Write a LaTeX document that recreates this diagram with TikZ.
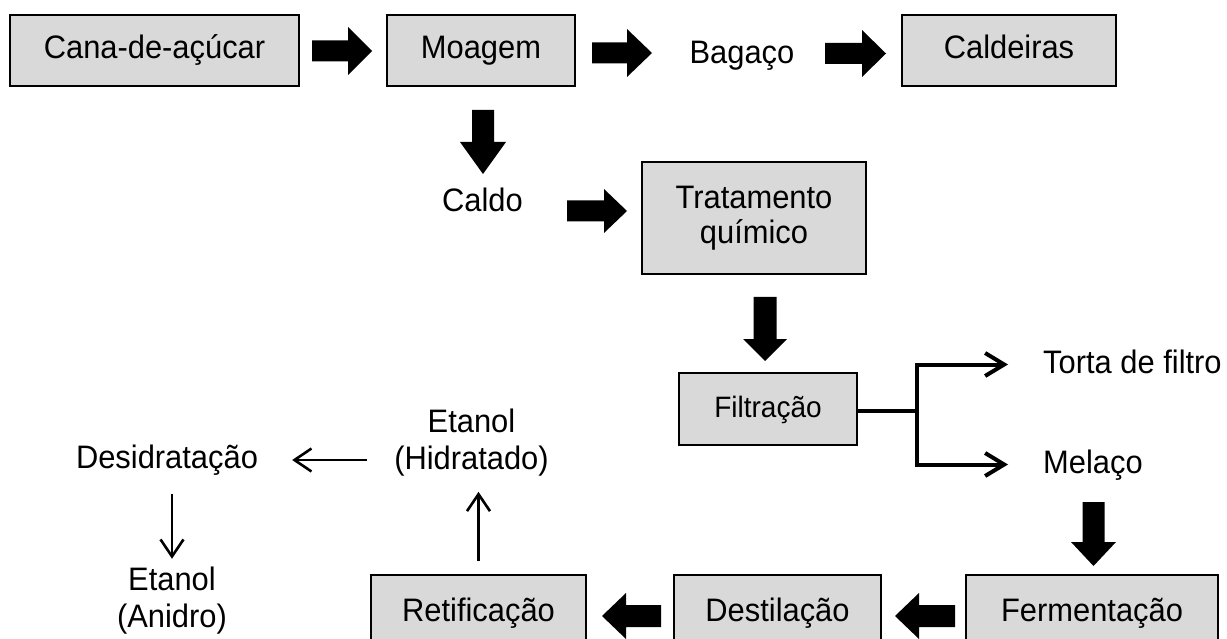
\documentclass[tikz,border=0pt]{standalone}
\usepackage{fontspec}
\setmainfont[FakeStretch=0.95]{Liberation Sans}
\usetikzlibrary{arrows.meta,calc}
\definecolor{boxfill}{RGB}{217,217,217}
\tikzset{
  lbl/.style={font=\fontsize{32.5}{37}\selectfont, inner sep=0pt},
  one/.style={text height=24pt, text depth=7pt},
  procbox/.style={lbl, draw=black, fill=boxfill, line width=1.3pt},
  thinarr/.style={line width=2.6pt, -{Straight Barb[length=17pt,width=23pt]}},
  brancharr/.style={line width=4pt, -{Straight Barb[length=19pt,width=23pt]}},
  branchline/.style={line width=4pt},
  pics/blockarr/.style n args={4}{code={
    \fill[black] (-#1/2,-#3/2) -- (#1/2-#4,-#3/2) -- (#1/2-#4,-#2/2) -- (#1/2,0)
      -- (#1/2-#4,#2/2) -- (#1/2-#4,#3/2) -- (-#1/2,#3/2) -- cycle;
  }}
}
\begin{document}
\begin{tikzpicture}[x=1pt,y=-1pt]
\useasboundingbox (0,0) rectangle (1227,639);
\clip (0,0) rectangle (1227,639);

% top row
\node[procbox, one, minimum width=289pt, minimum height=71pt] (cana) at (154.5,50.5) {Cana-de-açúcar};
\node[procbox, one, minimum width=188pt, minimum height=71pt] (moag) at (481,50.5) {Moagem};
\node[lbl, one] (bag) at (742,55.5) {Bagaço};
\node[procbox, one, minimum width=214pt, minimum height=71pt] (cald) at (1009,50.5) {Caldeiras};

% second row
\node[lbl, one] (caldo) at (482.5,203.5) {Caldo};
\node[procbox, align=center, font=\fontsize{32.5}{35}\selectfont, minimum width=224pt, minimum height=112pt] (trat) at (754,218) {Tratamento\\químico};

% filtration
\node[procbox, one, font=\fontsize{29.5}{33}\selectfont, minimum width=178pt, minimum height=72pt] (filt) at (768,409) {Filtração};
\node[lbl, one, anchor=west] (torta) at (1043,364.5) {Torta de filtro};
\node[lbl, one, anchor=west] (mel) at (1043,464.5) {Melaço};

% bottom row
\node[procbox, one, minimum width=252pt, minimum height=75pt] (ferm) at (1092,612.5) {Fermentação};
\node[procbox, one, minimum width=207pt, minimum height=75pt] (dest) at (777.5,612.5) {Destilação};
\node[procbox, one, minimum width=215pt, minimum height=75pt] (ret) at (478.5,612.5) {Retificação};

% ethanol
\node[lbl, align=center] (hid) at (471.5,443) {Etanol\\(Hidratado)};
\node[lbl, one] (desid) at (167,460) {Desidratação};
\node[lbl, align=center] (anid) at (172,600.6) {Etanol\\(Anidro)};

% block arrows
\pic at (342,51) {blockarr={60}{48}{21}{24}};
\pic at (622,53) {blockarr={60}{48}{21}{25}};
\pic at (855.5,53.5) {blockarr={61}{47}{21}{24}};
\pic[rotate=-90] at (483,142) {blockarr={64}{46}{22}{32}};
\pic at (597,211) {blockarr={60}{44}{21}{23}};
\pic[rotate=-90] at (765,329) {blockarr={64}{44}{23}{22}};
\pic[rotate=-90] at (1093.5,534) {blockarr={64}{45}{22}{24}};
\pic[rotate=180] at (925,616) {blockarr={60}{46}{22}{24}};
\pic[rotate=180] at (631.5,616) {blockarr={59}{46}{22}{24}};

% branch after filtration
\coordinate (br) at (917,411);
\draw[branchline] (filt.east |- br) -- (br);
\draw[brancharr, shorten >=35pt] (br) |- (torta.west);
\draw[brancharr, shorten >=35pt] (br) |- (mel.west);

% thin arrows
\draw[thinarr, shorten <=13pt, shorten >=15pt] (ret.north) -- (ret.north |- hid.south);
\draw[thinarr, shorten <=27pt, shorten >=34pt] (hid.west |- desid.east) -- (desid.east);
\draw[thinarr, shorten <=18pt, shorten >=8pt] (anid.north |- desid.south) -- (anid.north);
\end{tikzpicture}
\end{document}
